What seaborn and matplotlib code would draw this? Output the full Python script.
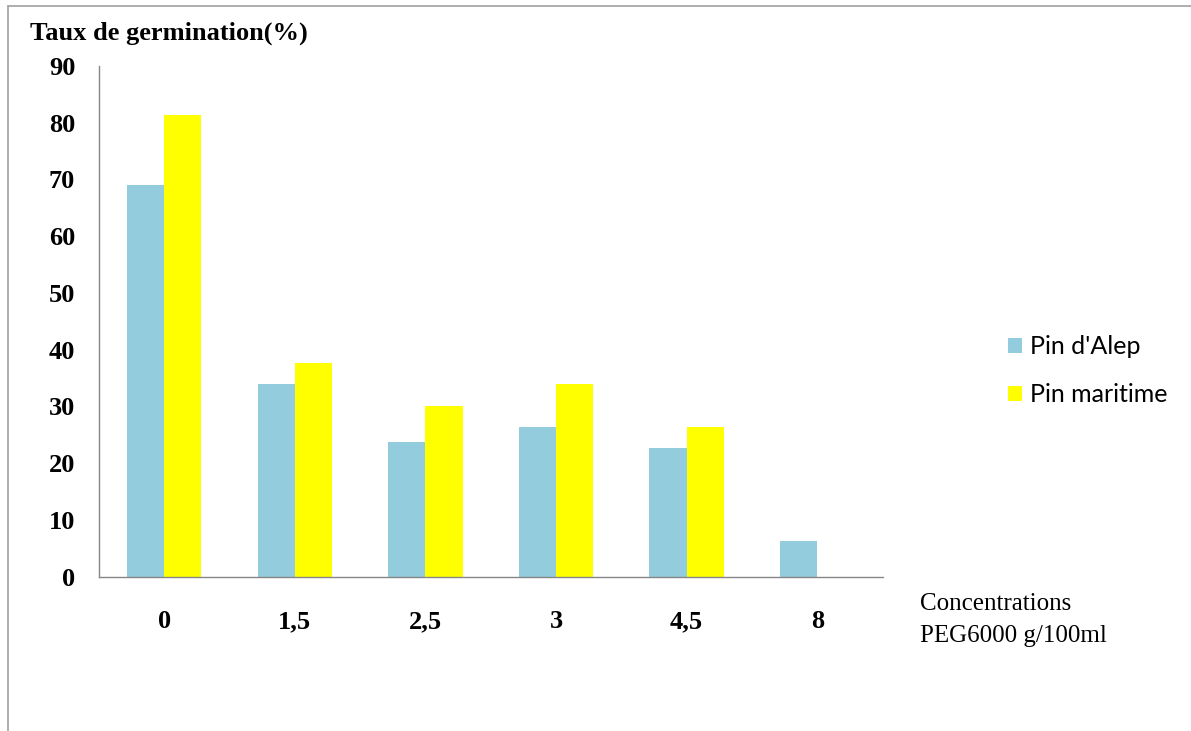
import pandas as pd
import matplotlib.pyplot as plt
import matplotlib.lines as mlines
import matplotlib.ticker as mticker
import seaborn as sns

# --- données ---
concentrations = ['0', '1,5', '2,5', '3', '4,5', '8']
pin_alep = [69.0, 34.0, 23.8, 26.4, 22.7, 6.3]
pin_maritime = [81.4, 37.6, 30.0, 34.0, 26.4, None]  # pas de barre à 8
especes = ["Pin d'Alep", "Pin maritime"]
couleurs = ['#93CDDD', '#FFFF00']

rows = []
for c, a, m in zip(concentrations, pin_alep, pin_maritime):
    rows.append({'conc': c, 'espece': especes[0], 'taux': a})
    if m is not None:
        rows.append({'conc': c, 'espece': especes[1], 'taux': m})
df = pd.DataFrame(rows)

sns.set_style('white')
plt.rcParams['text.color'] = 'black'
plt.rcParams['xtick.color'] = 'black'
plt.rcParams['ytick.color'] = 'black'
serif = ['Liberation Serif', 'DejaVu Serif']
sans = ['Lato', 'DejaVu Sans']
gris = '#868686'

fig = plt.figure(figsize=(11.91, 7.31), dpi=100)
ax = fig.add_axes([0.083, 0.211, 0.658, 0.699])

sns.barplot(data=df, x='conc', y='taux', hue='espece', order=concentrations,
            hue_order=especes, palette=couleurs, width=0.57, saturation=1,
            errorbar=None, linewidth=0, ax=ax)

ax.set_xlim(-0.5, len(concentrations) - 0.5)
ax.set_ylim(0, 90)
ax.yaxis.set_major_locator(mticker.MultipleLocator(10))

# graduations x aux limites des catégories, étiquettes au centre
ax.set_xticks([i - 0.5 for i in range(len(concentrations) + 1)])
ax.set_xticklabels([])
ax.set_xticks(range(len(concentrations)), minor=True)
ax.set_xticklabels(concentrations, minor=True)
ax.tick_params(axis='x', which='major', direction='out', length=7, width=1, color=gris)
ax.tick_params(axis='x', which='minor', length=0, pad=24, labelcolor='black')
ax.tick_params(axis='y', direction='out', length=7, width=1, color=gris, pad=10, labelcolor='black')
for lab in ax.get_xticklabels(minor=True) + ax.get_yticklabels():
    lab.set_family(serif)
    lab.set_fontweight('bold')
    lab.set_fontsize(19)

for s in ['top', 'right']:
    ax.spines[s].set_visible(False)
for s in ['left', 'bottom']:
    ax.spines[s].set_color(gris)
    ax.spines[s].set_linewidth(1)

ax.set_xlabel('')
ax.set_ylabel('')

fig.text(30 / 1191, 1 - 33 / 731, 'Taux de germination(%)', family=serif,
         fontweight='bold', fontsize=19, va='center', ha='left', color='black')
fig.text(920 / 1191, 1 - 620 / 731, 'Concentrations\nPEG6000 g/100ml', family=serif,
         fontsize=18, va='center', ha='left', linespacing=1.55, color='black')

leg = ax.legend(loc='center left', bbox_to_anchor=(1008 / 1191, 1 - 371 / 731),
                bbox_transform=fig.transFigure, frameon=False, prop={'family': sans, 'size': 18},
                handlelength=0.55, handleheight=0.55, handletextpad=0.35, labelspacing=1.0,
                borderpad=0, borderaxespad=0)
for t in leg.get_texts():
    t.set_color('black')

# cadre gris du graphique (coin haut gauche)
fig.add_artist(mlines.Line2D([8 / 1191, 8 / 1191], [0, 1 - 6 / 731], color='#A0A0A0', lw=1.2))
fig.add_artist(mlines.Line2D([8 / 1191, 1], [1 - 6 / 731, 1 - 6 / 731], color='#A0A0A0', lw=1.2))

fig.savefig('out.png', dpi=100)
